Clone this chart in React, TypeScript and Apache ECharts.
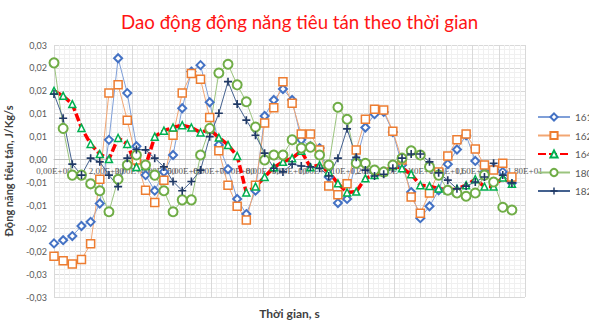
import React, { useEffect, useRef } from "react";
import * as echarts from "echarts";

const TITLE = "Dao động động năng tiêu tán theo thời gian";
const X_NAME = "Thời gian, s";
const Y_NAME = "Động năng tiêu tán, J/Kg/s";

const TIME = [
  0, 0.35, 0.7, 1.05, 1.4, 1.75, 2.1, 2.45, 2.8, 3.15, 3.5, 3.85, 4.2, 4.55, 4.9, 5.25, 5.6,
  5.95, 6.3, 6.65, 7, 7.35, 7.7, 8.05, 8.4, 8.75, 9.1, 9.45, 9.8, 10.15, 10.5, 10.85, 11.2,
  11.55, 11.9, 12.25, 12.6, 12.95, 13.3, 13.65, 14, 14.35, 14.7, 15.05, 15.4, 15.75, 16.1,
  16.45, 16.8, 17.15, 17.5,
];

const S161 = [
  -0.0183, -0.0176, -0.0167, -0.0145, -0.0136, -0.0096, 0.0043, 0.0221, 0.0145, 0.0029,
  -0.0034, -0.0068, -0.0027, 0.001, 0.0112, 0.0192, 0.0206, 0.0125, 0.0032, -0.0021,
  -0.0086, -0.0119, -0.0068, 0.0095, 0.013, 0.0154, 0.013, 0.0043, 0.0029, 0.0025,
  -0.0038, -0.0095, -0.0086, -0.0001, 0.007, 0.0099, 0.0104, 0.006, -0.0012, -0.0071,
  -0.0128, -0.0102, -0.0067, -0.001, 0.0022, 0.0053, -0.0003, -0.0027, -0.0019, -0.0027,
  -0.0051,
];

const S162 = [
  -0.0211, -0.0221, -0.0228, -0.0218, -0.0184, -0.0043, 0.0145, 0.0163, 0.0086, -0.0001,
  -0.0067, -0.0094, -0.0045, 0.0053, 0.0145, 0.0188, 0.0175, 0.0092, 0.0019, -0.0056,
  -0.0102, -0.0132, -0.0056, 0.008, 0.0113, 0.017, 0.0123, 0.0056, 0.0056, 0.0021,
  -0.0058, -0.0077, -0.0053, 0.0021, 0.0088, 0.011, 0.0108, 0.0062, -0.0001, -0.0082,
  -0.0117, -0.0073, -0.0027, 0.0008, 0.0043, 0.0056, 0.0023, -0.0012, -0.0023, -0.0008,
  -0.0038,
];

const S164 = [
  0.015, 0.0139, 0.0121, 0.0069, 0.0034, 0.0012, 0.0001, 0.0047, 0.0034, -0.0016,
  -0.0014, 0.005, 0.0063, 0.007, 0.0075, 0.007, 0.0059, 0.0066, 0.0048, 0.0032,
  0.0008, -0.0072, -0.0059, -0.0038, -0.0017, -0.0005, 0.0003, 0.0019, -0.0017, -0.0012,
  -0.0027, -0.0052, -0.0072, -0.007, -0.0041, -0.0034, -0.0027, -0.0014, -0.0019, -0.0032,
  -0.0056, -0.0058, -0.0063, -0.0067, -0.0064, -0.0056, -0.0043, -0.0059, -0.0059, -0.0039,
  -0.0053,
];

const S180 = [
  0.0211, 0.0068, -0.0034, -0.0034, -0.0053, -0.0068, -0.0114, -0.0043, -0.0012, 0.001,
  -0.0012, -0.0034, -0.0068, -0.0114, -0.0088, -0.0088, 0.001, 0.0068, 0.0189, 0.0208,
  0.0163, 0.0126, 0.0071, -0.0001, 0.001, 0.001, 0.0043, 0.0025, 0.0027, 0.001,
  -0.0012, 0.0114, 0.0088, -0.0008, -0.0008, -0.0023, -0.0027, -0.0012, 0.0003, 0.0019,
  0.001, -0.0016, -0.0034, -0.0067, -0.0073, -0.008, -0.0073, -0.0034, -0.0049, -0.0104,
  -0.011,
];

const S182 = [
  0.0143, 0.009, -0.001, -0.0034, 0.0003, -0.0005, -0.0034, -0.0059, 0.0003, 0.0022,
  0.0021, 0.0003, -0.0016, -0.0048, -0.0068, -0.0048, -0.0023, 0.005, 0.0101, 0.017,
  0.0121, 0.0086, 0.0053, 0.0014, -0.0019, -0.0027, -0.001, -0.0014, -0.0016, -0.0019,
  -0.0036, 0.0003, 0.0067, 0.0005, -0.0023, -0.0036, -0.0032, -0.0019, 0.0003, 0.0012,
  0.0012, -0.0005, -0.0029, -0.0045, -0.0064, -0.0058, -0.0049, -0.0038, -0.0008, -0.0034,
  -0.0051,
];

const SERIES_NAMES = ["161", "162", "164", "180", "182"];

const PLUS =
  "path://M4,0 L6,0 L6,4 L10,4 L10,6 L6,6 L6,10 L4,10 L4,6 L0,6 L0,4 L4,4 Z";

const FONT = "Lato, 'Open Sans', sans-serif";

function fmtY(v: number): string {
  const r = Math.round(Math.abs(v) * 100 + 1e-9) / 100;
  const s = v < 0 && r > 0 ? "-" : "";
  return s + r.toFixed(2).replace(".", ",");
}

function fmtX(v: number): string {
  if (Math.abs(v) < 1e-12) return "0,00E+00";
  const e = Math.floor(Math.log10(Math.abs(v)) + 1e-12);
  const m = v / Math.pow(10, e);
  return (
    m.toFixed(2).replace(".", ",") +
    "E" +
    (e >= 0 ? "+" : "-") +
    String(Math.abs(e)).padStart(2, "0")
  );
}

function pairs(vals: number[]) {
  return vals.map((v, i) => [TIME[i], v]);
}

export default function App() {
  const ref = useRef<HTMLDivElement>(null);

  useEffect(() => {
    if (!ref.current) return;
    const chart = echarts.init(ref.current, null, { renderer: "svg" });
    const thin = { width: 1 };
    chart.setOption({
      animation: false,
      backgroundColor: "#ffffff",
      title: {
        text: TITLE,
        left: 116,
        top: 7,
        textStyle: {
          color: "#FF1414",
          fontSize: 18.7,
          fontWeight: "normal",
          fontFamily: FONT,
        },
      },
      legend: {
        orient: "vertical",
        left: 532,
        top: 107,
        itemWidth: 32,
        itemHeight: 9,
        itemGap: 8.5,
        data: SERIES_NAMES,
        textStyle: { color: "#595959", fontSize: 10, fontFamily: FONT },
      },
      grid: {
        left: 54,
        top: 45,
        width: 471,
        height: 252,
        containLabel: false,
        outerBoundsMode: "none",
      },
      xAxis: {
        type: "value",
        min: 0,
        max: 18,
        interval: 1,
        position: "bottom",
        offset: -137.5,
        name: X_NAME,
        nameLocation: "middle",
        nameGap: 148,
        nameTextStyle: {
          color: "#404040",
          fontSize: 12,
          fontWeight: "bold",
          fontFamily: FONT,
        },
        axisLine: { show: true, onZero: false, lineStyle: { color: "#bfbfbf", width: 1 } },
        axisTick: { show: false },
        axisLabel: {
          color: "#595959",
          fontSize: 9,
          fontFamily: "'Liberation Serif', serif",
          margin: 7,
          hideOverlap: false,
          showMinLabel: true,
          showMaxLabel: true,
          formatter: fmtX,
        },
        splitLine: { show: true, lineStyle: { color: "#d9d9d9", width: 1 } },
        minorTick: { show: false, splitNumber: 5 },
        minorSplitLine: { show: true, lineStyle: { color: "#f0f0f0", width: 1 } },
      },
      yAxis: {
        type: "value",
        min: -0.03,
        max: 0.025,
        interval: 0.005,
        name: Y_NAME,
        nameLocation: "middle",
        nameGap: 40,
        nameRotate: 90,
        nameTextStyle: {
          color: "#404040",
          fontSize: 11,
          fontWeight: "bold",
          fontFamily: FONT,
        },
        axisLine: { show: false },
        axisTick: { show: false },
        axisLabel: {
          color: "#595959",
          fontSize: 9,
          fontFamily: FONT,
          margin: 7,
          formatter: fmtY,
        },
        splitLine: { show: true, lineStyle: { color: "#d9d9d9", width: 1 } },
        minorTick: { show: false, splitNumber: 5 },
        minorSplitLine: { show: true, lineStyle: { color: "#f0f0f0", width: 1 } },
      },
      series: [
        {
          name: "161",
          type: "line",
          data: pairs(S161),
          symbol: "diamond",
          symbolSize: 8,
          lineStyle: { ...thin, color: "#7f9fd8" },
          itemStyle: { color: "#ffffff", borderColor: "#4472C4", borderWidth: 2 },
        },
        {
          name: "162",
          type: "line",
          data: pairs(S162),
          symbol: "rect",
          symbolSize: 8,
          lineStyle: { ...thin, color: "#f2a673" },
          itemStyle: { color: "#ffffff", borderColor: "#ED7D31", borderWidth: 1.5 },
        },
        {
          name: "164",
          type: "line",
          data: pairs(S164),
          symbol: "triangle",
          symbolSize: 7,
          z: 3,
          lineStyle: { width: 3.5, color: "#FF0000", type: [8, 3] },
          itemStyle: { color: "#ffffff", borderColor: "#00B050", borderWidth: 1.5 },
        },
        {
          name: "180",
          type: "line",
          data: pairs(S180),
          symbol: "circle",
          symbolSize: 9,
          lineStyle: { ...thin, color: "#9bc47e" },
          itemStyle: { color: "#ffffff", borderColor: "#70AD47", borderWidth: 2 },
        },
        {
          name: "182",
          type: "line",
          data: pairs(S182),
          symbol: PLUS,
          symbolSize: 8,
          lineStyle: { ...thin, color: "#44618f" },
          itemStyle: { color: "#1F3864", borderWidth: 0 },
        },
      ],
    });
    return () => chart.dispose();
  }, []);

  return (
    <div
      ref={ref}
      style={{ position: "fixed", left: 0, top: 0, width: 589, height: 320, background: "#fff" }}
    />
  );
}
